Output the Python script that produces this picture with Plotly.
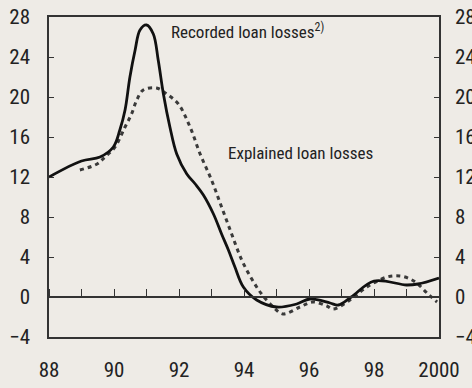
import plotly.graph_objects as go

# Recorded loan losses (solid line)
rec_x = [88.0, 89.0, 89.57, 89.98, 90.18, 90.34, 90.49, 90.65, 90.8, 91.0, 91.21,
         91.36, 91.52, 91.72, 91.93, 92.24, 92.5, 92.75, 93.06, 93.31, 93.52, 93.72,
         93.98, 94.39, 95.0, 95.62, 96.03, 96.65, 96.9, 97.3, 98.0, 99.0, 99.35, 100.0]
rec_y = [12.0, 13.6, 14.0, 15.0, 16.7, 18.7, 22.0, 24.7, 26.7, 27.2, 26.3,
         23.7, 20.3, 17.0, 14.3, 12.3, 11.3, 10.2, 8.3, 6.3, 4.7, 3.0,
         1.0, -0.3, -1.0, -0.7, -0.2, -0.6, -0.8, 0.0, 1.6, 1.2, 1.3, 1.9]

# Explained loan losses (dashed line)
exp_x = [88.95, 89.48, 89.72, 90.03, 90.34, 90.54, 90.7, 90.9, 91.31, 91.62, 91.98,
         92.34, 92.65, 93.0, 93.31, 93.62, 93.93, 94.24, 94.54, 94.9, 95.2, 95.72,
         96.12, 96.55, 96.74, 97.26, 97.78, 98.4, 98.8, 99.11, 99.35, 99.63, 99.94]
exp_y = [12.7, 13.3, 14.0, 15.0, 17.0, 18.3, 19.7, 20.7, 20.9, 20.3, 19.3,
         17.0, 14.3, 11.7, 9.0, 6.3, 3.7, 1.8, 0.3, -1.0, -1.7, -1.0,
         -0.5, -0.9, -1.2, -0.3, 1.0, 2.0, 2.1, 1.8, 1.3, 0.4, -0.5]

x_tickvals = [88, 90, 92, 94, 96, 98, 100]
x_ticktext = ["88", "90", "92", "94", "96", "98", "2000"]
y_tickvals = [-4, 0, 4, 8, 12, 16, 20, 24, 28]
year_ticks = list(range(88, 101))

BG = "#EEEBE6"
FONT = "Roboto Condensed, Liberation Sans Narrow, sans-serif"
AX = "#333333"

fig = go.Figure()
fig.add_trace(go.Scatter(x=exp_x, y=exp_y, mode="lines", line_shape="spline",
                         line=dict(color="#3a3a3a", width=3, dash="4px,4px"),
                         showlegend=False, hoverinfo="skip"))
fig.add_trace(go.Scatter(x=rec_x, y=rec_y, mode="lines", line_shape="spline",
                         line=dict(color="#111111", width=2.8),
                         showlegend=False, hoverinfo="skip"))
# invisible carriers for the secondary axes
fig.add_trace(go.Scatter(x=[88, 100], y=[0, 0], xaxis="x2", mode="lines",
                         line=dict(color="rgba(0,0,0,0)"), showlegend=False, hoverinfo="skip"))
fig.add_trace(go.Scatter(x=[88, 100], y=[0, 0], yaxis="y2", mode="lines",
                         line=dict(color="rgba(0,0,0,0)"), showlegend=False, hoverinfo="skip"))

fig.add_annotation(x=91.68, y=26.6, text="Recorded loan losses<sup>2)</sup>",
                   showarrow=False, xanchor="left", yanchor="middle",
                   font=dict(family=FONT, size=17, color="#222222"))
fig.add_annotation(x=93.45, y=14.4, text="Explained loan losses",
                   showarrow=False, xanchor="left", yanchor="middle",
                   font=dict(family=FONT, size=17, color="#222222"))

fig.update_layout(
    width=472, height=388,
    margin=dict(l=49, r=33, t=17, b=51, autoexpand=False),
    paper_bgcolor=BG, plot_bgcolor=BG,
    font=dict(family=FONT, size=21, color="#222222"),
    xaxis=dict(range=[88, 100], tickvals=x_tickvals, ticktext=x_ticktext,
               showgrid=False, zeroline=False, showline=True, linecolor=AX,
               linewidth=1.5, mirror=True, ticks="", ticklabelstandoff=13,
               automargin=False),
    xaxis2=dict(range=[88, 100], overlaying="x", anchor="free", position=0.125,
                side="top", tickvals=year_ticks, ticks="outside", ticklen=7,
                tickcolor=AX, tickwidth=1.2, showticklabels=False, showgrid=False,
                zeroline=False, showline=True, linecolor=AX, linewidth=1.5,
                automargin=False),
    yaxis=dict(range=[-4, 28], tickvals=y_tickvals, ticks="inside", ticklen=5,
               tickcolor=AX, tickwidth=1.2, showgrid=False, zeroline=False,
               showline=True, linecolor=AX, linewidth=1.5, ticklabelstandoff=13,
               automargin=False),
    yaxis2=dict(range=[-4, 28], overlaying="y", side="right", tickvals=y_tickvals,
                ticks="inside", ticklen=5, tickcolor=AX, tickwidth=1.2,
                showgrid=False, zeroline=False, showline=True, linecolor=AX,
                linewidth=1.5, ticklabelstandoff=10, automargin=False),
)

fig.write_html("out.html")
